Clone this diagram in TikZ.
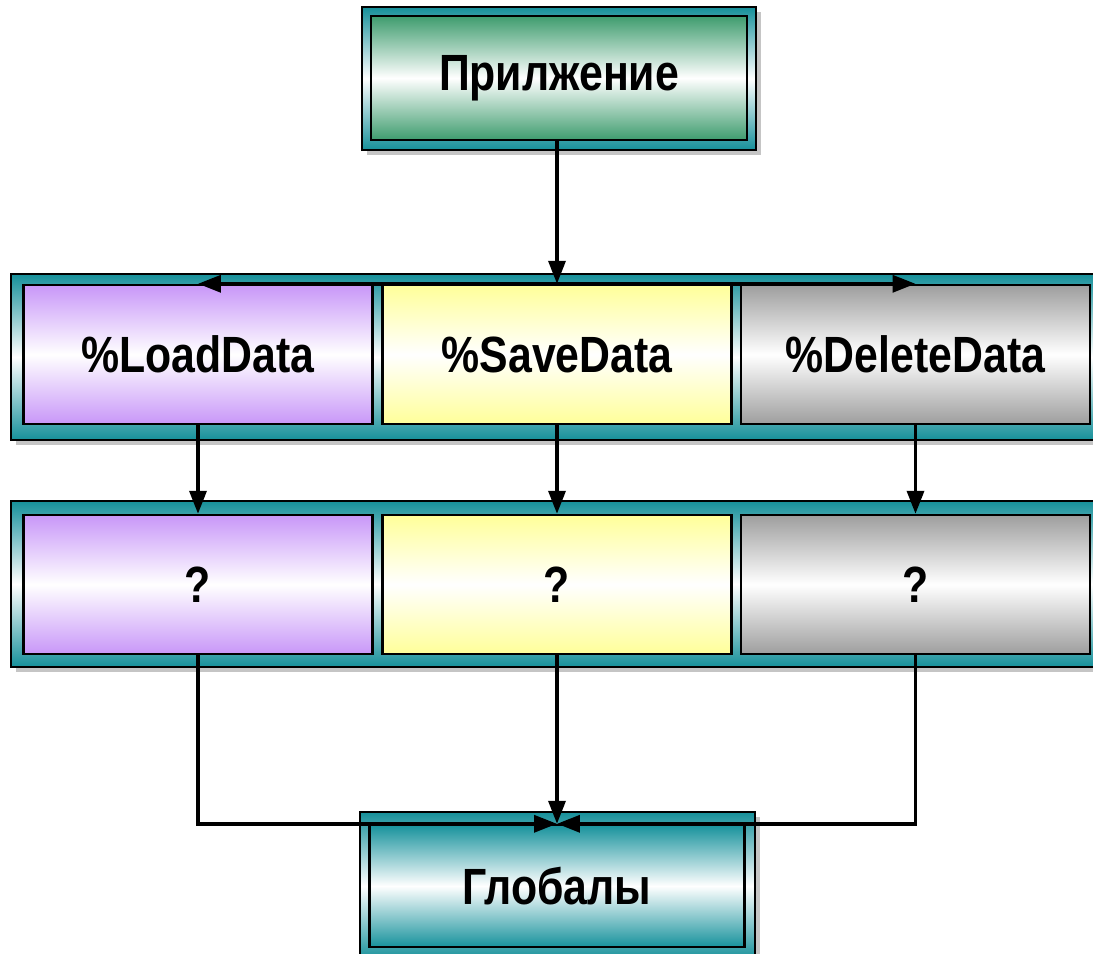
\documentclass[tikz,border=0pt]{standalone}
\usepackage{fontspec}
\newfontfamily\boxfont[FakeStretch=0.84]{Liberation Sans}
\usetikzlibrary{arrows.meta,shadows}
\definecolor{frameteal}{HTML}{16909A}
\definecolor{appgreen}{HTML}{3E9C6E}
\definecolor{loadlilac}{HTML}{C897F8}
\definecolor{saveyellow}{HTML}{FFFF99}
\definecolor{delgray}{HTML}{9E9E9E}
\definecolor{globteal}{HTML}{17929C}
\tikzset{>={Triangle[length=0.46cm,width=0.34cm]}}
\tikzset{
  frame/.style={draw=black, line width=1.4pt, top color=frameteal, bottom color=frameteal,
    middle color=white, inner sep=0pt,
    drop shadow={shadow xshift=0.1cm, shadow yshift=-0.1cm, fill=black!45, opacity=0.5}},
  box/.style={draw=black, line width=1.4pt, top color=#1, bottom color=#1, middle color=white,
    inner sep=0pt, minimum width=6.98cm, minimum height=2.78cm,
    font=\boxfont\bfseries\fontsize{29}{31}\selectfont},
  link/.style={line width=2pt}
}

\begin{document}
\begin{tikzpicture}[x=0.02cm,y=-0.02cm]
      \useasboundingbox (0,0) rectangle (1093,954);
      \clip (0,0) rectangle (1093,954);

      % frames
      \node[frame, minimum width=7.88cm, minimum height=2.86cm] (appframe) at (559,78.5) {};
      \node[frame, minimum width=21.78cm, minimum height=3.32cm] (bandA) at (555.5,357) {};
      \node[frame, minimum width=21.78cm, minimum height=3.32cm] (bandB) at (555.5,584) {};
      \node[frame, minimum width=7.9cm, minimum height=2.96cm] (globframe) at (557.5,886) {};

      % boxes
      \node[box=appgreen, minimum width=7.52cm, minimum height=2.48cm] (app) at (559,78) {Прилжение};
      \node[box=loadlilac] (load) at (198,354.5) {\%LoadData};
      \node[box=saveyellow] (save) at (557,354.5) {\%SaveData};
      \node[box=delgray] (del) at (915.5,354.5) {\%DeleteData};
      \node[box=loadlilac] (q1) at (198,584.5) {?};
      \node[box=saveyellow] (q2) at (557,584.5) {?};
      \node[box=delgray] (q3) at (915.5,584.5) {?};
      \node[box=globteal, minimum width=7.5cm, minimum height=2.44cm] (glob) at (557,886) {Глобалы};

      % links
      \draw[link,->] (save.north |- app.south) -- (save.north);
      \draw[link,->] (save.north) -- (load.north);
      \draw[link,->] (save.north) -- (del.north);
      \draw[link,->] (load.south) -- (q1.north);
      \draw[link,->] (save.south) -- (q2.north);
      \draw[link,->] (del.south) -- (q3.north);
      \draw[link,->] (q1.south) |- (glob.north);
      \draw[link,->] (q2.south) -- (glob.north);
      \draw[link,->] (q3.south) |- (glob.north);
\end{tikzpicture}
\end{document}
